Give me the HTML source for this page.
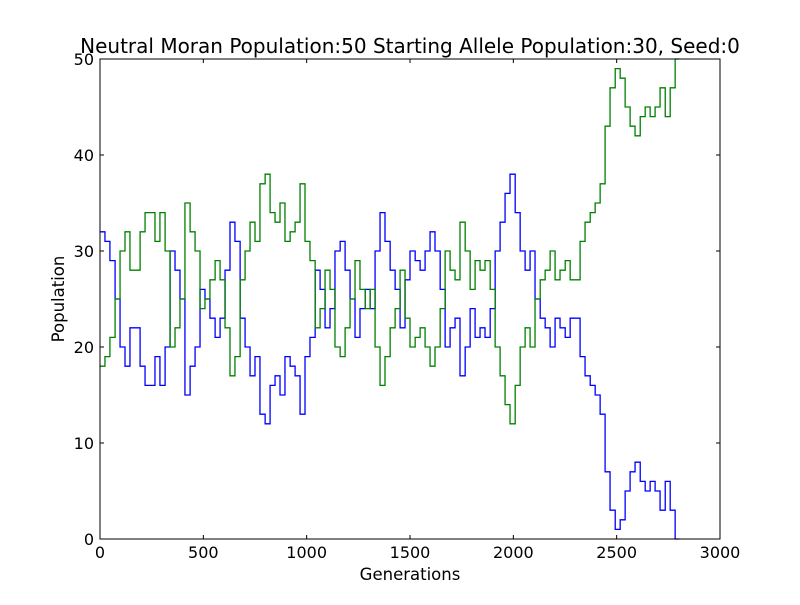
<!DOCTYPE html>
<html><head><meta charset="utf-8"><style>
body{margin:0;background:#fff;}
svg text{font-family:"DejaVu Sans","Liberation Sans",sans-serif;fill:#000;}
</style></head><body>
<svg id="chart" width="800" height="600" xmlns="http://www.w3.org/2000/svg">
<rect width="800" height="600" fill="#fff"/>
<text x="410" y="53" font-size="20" text-anchor="middle">Neutral Moran Population:50 Starting Allele Population:30, Seed:0</text>
<g id="plot"></g>
<text x="410" y="580" font-size="16.5" text-anchor="middle">Generations</text>
<text x="64" y="299" font-size="16.5" text-anchor="middle" transform="rotate(-90 64 299)">Population</text>
</svg>
<script>
const gens=[0,24,48,73,97,121,145,169,194,218,242,266,290,315,339,363,387,411,436,460,484,508,532,557,581,605,629,653,678,702,726,750,774,799,823,847,871,895,920,944,968,992,1016,1041,1065,1089,1113,1137,1162,1186,1210,1234,1258,1283,1307,1331,1355,1379,1404,1428,1452,1476,1500,1525,1549,1573,1597,1621,1646,1670,1694,1718,1742,1767,1791,1815,1839,1863,1888,1912,1936,1960,1984,2009,2033,2057,2081,2105,2130,2154,2178,2202,2226,2251,2275,2299,2323,2347,2372,2396,2420,2444,2468,2493,2517,2541,2565,2589,2614,2638,2662,2686,2710,2735,2759,2783];
const blueValues=[32,31,29,25,20,18,22,22,18,16,16,19,16,20,30,28,25,15,18,20,26,25,23,21,23,28,33,31,23,20,17,19,13,12,16,17,15,19,18,17,13,19,21,28,26,22,24,30,31,28,25,21,24,26,24,30,34,31,28,26,22,27,30,29,28,30,32,30,26,20,22,23,17,20,24,21,22,21,24,30,33,36,38,34,30,28,30,25,23,22,20,23,22,21,23,23,19,17,16,15,13,7,3,1,2,5,7,8,6,5,6,5,3,6,3,0];
const greenValues=[18,19,21,25,30,32,28,28,32,34,34,31,34,30,20,22,25,35,32,30,24,25,27,29,27,22,17,19,27,30,33,31,37,38,34,33,35,31,32,33,37,31,29,22,24,28,26,20,19,22,25,29,26,24,26,20,16,19,22,24,28,23,20,21,22,20,18,20,24,30,28,27,33,30,26,29,28,29,26,20,17,14,12,16,20,22,20,25,27,28,30,27,28,29,27,27,31,33,34,35,37,43,47,49,48,45,43,42,44,45,44,45,47,44,47,50];
const xTicks=[0,500,1000,1500,2000,2500,3000];
const yTicks=[0,10,20,30,40,50];
const L=100,R=720,T=59,B=539;
const xs=g=>L+g/3000*(R-L);
const ys=v=>B-v/50*(B-T);
const NS="http://www.w3.org/2000/svg";
const plot=document.getElementById('plot');
function mk(tag,attrs){const e=document.createElementNS(NS,tag);for(const k in attrs)e.setAttribute(k,attrs[k]);plot.appendChild(e);return e;}
function series(vals,color,name){
  let d='';
  vals.forEach((v,i)=>{const x=xs(gens[i]),y=ys(v);
    if(i===0)d+='M'+x+' '+y;else d+=' H'+x+' V'+y;});
  d+=' H'+xs(gens[gens.length-1]+20);
  const p=mk('path',{d:d,fill:'none',stroke:color,'stroke-width':1.3});
  
  
}
series(blueValues,'#0000ff','blue-allele-line');
series(greenValues,'#008000','green-allele-line');
const frame=mk('rect',{x:L,y:T,width:R-L,height:B-T,fill:'none',stroke:'#000','stroke-width':1});


xTicks.forEach(t=>{const x=xs(t);
  mk('line',{x1:x,x2:x,y1:B,y2:B-4,stroke:'#000'});
  mk('line',{x1:x,x2:x,y1:T,y2:T+4,stroke:'#000'});
  const tx=mk('text',{x:x,y:B+19,'font-size':16,'text-anchor':'middle'});tx.textContent=t;
  
  
});
yTicks.forEach(t=>{const y=ys(t);
  mk('line',{x1:L,x2:L+4,y1:y,y2:y,stroke:'#000'});
  mk('line',{x1:R,x2:R-4,y1:y,y2:y,stroke:'#000'});
  const tx=mk('text',{x:L-6,y:y+6,'font-size':16,'text-anchor':'end'});tx.textContent=t;
  
  
});
</script>
</body></html>
